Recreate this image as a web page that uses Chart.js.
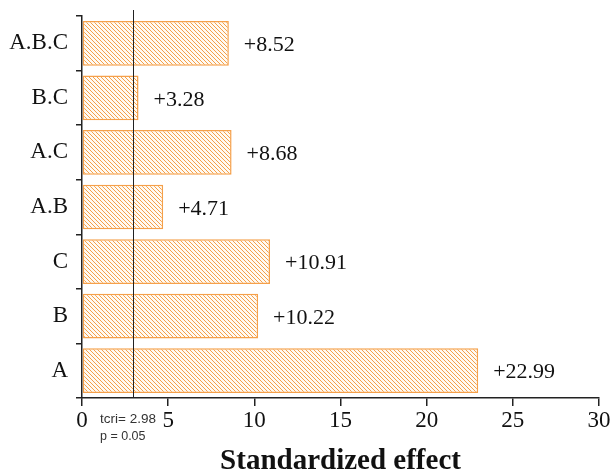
<!DOCTYPE html>
<html>
<head>
<meta charset="utf-8">
<script src="https://cdn.jsdelivr.net/npm/chart.js@4/dist/chart.umd.min.js"></script>
<style>
  html, body { margin: 0; padding: 0; background: #fff; }
  #wrap { width: 612px; height: 476px; }
</style>
</head>
<body>
<div id="wrap"><canvas id="barChart" width="612" height="476"></canvas></div>
<script>
var labels = ["A.B.C", "B.C", "A.C", "A.B", "C", "B", "A"];
var effects = [8.52, 3.28, 8.68, 4.71, 10.91, 10.22, 22.99];
var tCritical = 2.98;
var xTicks = [0, 5, 10, 15, 20, 25, 30];

var serif = "'Liberation Serif', 'Times New Roman', serif";

// diagonal hatch like the original figure
function makeHatch(ctx) {
  var p = document.createElement("canvas");
  p.width = 4; p.height = 4;
  var c = p.getContext("2d");
  c.fillStyle = "#fffaf3";
  c.fillRect(0, 0, 4, 4);
  c.strokeStyle = "rgba(243,150,55,0.9)";
  c.lineWidth = 1;
  c.beginPath();
  c.moveTo(0, 0); c.lineTo(4, 4);
  c.moveTo(-1, 3); c.lineTo(1, 5);
  c.moveTo(3, -1); c.lineTo(5, 1);
  c.stroke();
  return ctx.createPattern(p, "repeat");
}

var extras = {
  id: "extras",
  afterDatasetsDraw: function(chart) {
    var ctx = chart.ctx;
    var xs = chart.scales.x, ys = chart.scales.y;
    var meta = chart.getDatasetMeta(0);
    ctx.save();
    // value labels
    ctx.font = "22px " + serif;
    ctx.fillStyle = "#111";
    ctx.textBaseline = "middle";
    ctx.textAlign = "left";
    meta.data.forEach(function(bar, i) {
      ctx.fillText("+" + effects[i].toFixed(2), bar.x + 15, bar.y + 2);
    });
    // critical t line
    var lx = Math.round(xs.getPixelForValue(tCritical)) + 0.5;
    ctx.strokeStyle = "#222";
    ctx.lineWidth = 1;
    ctx.beginPath();
    ctx.moveTo(lx, 10);
    ctx.lineTo(lx, ys.bottom);
    ctx.stroke();
    ctx.font = "13.5px 'Liberation Sans', Arial, sans-serif";
    ctx.fillStyle = "#333";
    ctx.fillText("tcri= 2.98", 100, 419);
    ctx.font = "12.5px 'Liberation Sans', Arial, sans-serif";
    ctx.fillText("p = 0.05", 100, 437);
    ctx.restore();
  }
};

var barChart = document.getElementById("barChart").getContext("2d");

var myBarChart = new Chart(barChart, {
  type: "bar",
  data: {
    labels: labels,
    datasets: [{
      data: effects,
      backgroundColor: makeHatch(barChart),
      borderColor: "#f5a04a",
      borderWidth: 1.5,
      borderSkipped: false,
      barPercentage: 0.82,
      categoryPercentage: 1
    }]
  },
  options: {
    indexAxis: "y",
    animation: false,
    responsive: false,
    layout: { padding: { top: 16, right: 13, left: 0, bottom: 0 } },
    plugins: { legend: { display: false }, tooltip: { enabled: false } },
    scales: {
      x: {
        min: 0,
        max: 30,
        afterBuildTicks: function(scale) {
          scale.ticks = xTicks.map(function(v) { return { value: v }; });
        },
        afterFit: function(scale) { scale.height = 78; },
        border: { color: "#222", width: 1.5 },
        grid: { drawOnChartArea: false, drawTicks: true, tickLength: 8, color: "#222", lineWidth: 1.5 },
        ticks: { color: "#111", font: { family: serif, size: 23 }, padding: 1, maxRotation: 0 },
        title: {
          display: true,
          text: "Standardized effect",
          color: "#111",
          font: { family: serif, size: 29, weight: "bold", lineHeight: 1 },
          padding: { top: 0, bottom: 0 }
        }
      },
      y: {
        afterFit: function(scale) {
          scale.width = 82;
          scale.paddingTop = 0;
          scale.paddingBottom = 0;
        },
        border: { color: "#222", width: 1.5 },
        grid: { drawOnChartArea: false, drawTicks: true, tickLength: 6, offset: true, color: "#222", lineWidth: 1.5 },
        ticks: { color: "#111", font: { family: serif, size: 23 }, padding: 8 }
      }
    }
  },
  plugins: [extras]
});
</script>
</body>
</html>
